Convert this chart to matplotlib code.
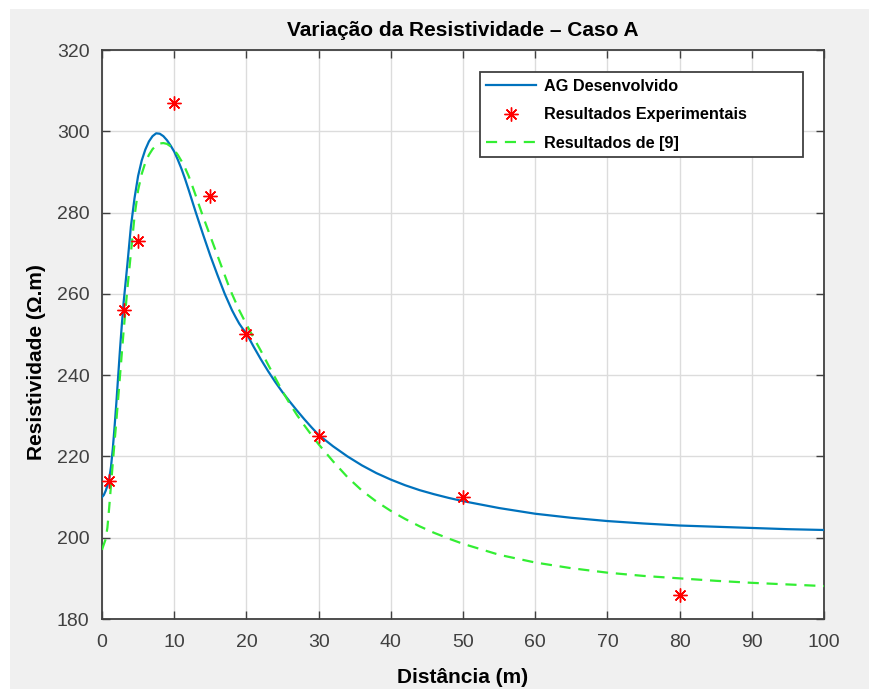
import matplotlib
matplotlib.use("Agg")
import matplotlib.pyplot as plt
from matplotlib.patches import Rectangle

# ---- data ----
ag_x = [0, 0.25, 0.5, 0.75, 1, 1.25, 1.5, 1.75, 2, 2.25, 2.5, 2.75, 3, 3.5, 4, 4.5,
        5, 5.5, 6, 6.5, 7, 7.5, 8, 8.5, 9, 9.5, 10, 10.5, 11, 11.5, 12, 12.5, 13,
        13.5, 14, 14.5, 15, 15.5, 16, 16.5, 17, 17.5, 18, 18.5, 19, 19.5, 20, 21,
        22, 23, 24, 25, 26, 27, 28, 29, 30, 32, 34, 36, 38, 40, 42, 44, 46, 48,
        50, 55, 60, 65, 70, 75, 80, 85, 90, 95, 100]
ag_y = [210, 210.5, 211.5, 212.8, 214.5, 217.5, 222, 227.5, 233.5, 240, 246.5,
        252.5, 258, 267, 276.5, 283.5, 289, 292.8, 295.5, 297.5, 298.8, 299.5,
        299.4, 298.8, 297.8, 296.5, 295, 293, 290.8, 288.3, 285.6, 282.8, 280,
        277.3, 274.6, 272, 269.4, 267, 264.6, 262.3, 260, 258, 256, 254.3, 252.7,
        251.4, 250.3, 247, 243.9, 241, 238.3, 235.8, 233.5, 231.3, 229.2, 227.2,
        225.3, 222.5, 220.0, 217.8, 215.9, 214.3, 212.9, 211.7, 210.7, 209.8,
        209.0, 207.3, 205.9, 204.9, 204.1, 203.5, 203.0, 202.7, 202.4, 202.1,
        201.9]

exp_x = [1, 3, 5, 10, 15, 20, 30, 50, 80]
exp_y = [214, 256, 273, 307, 284, 250, 225, 210, 186]

ref_x = [0, 0.1, 0.3, 0.5, 0.75, 1, 1.25, 1.5, 2, 2.5, 3, 3.5, 4, 4.5, 5, 5.5, 6,
         6.5, 7, 7.5, 8, 8.5, 9, 9.5, 10, 10.5, 11, 11.5, 12, 12.5, 13, 13.5, 14,
         14.5, 15, 15.5, 16, 16.5, 17, 17.5, 18, 19, 20, 21, 22, 23, 24, 25, 26,
         27, 28, 29, 30, 32, 34, 36, 38, 40, 42, 44, 46, 48, 50, 55, 60, 65, 70,
         75, 80, 85, 90, 95, 100]
ref_y = [197, 197.6, 198.6, 199.6, 202.5, 207.5, 213, 218.5, 229, 240, 251, 261,
         270, 279, 285.5, 289.5, 292.3, 294.2, 295.6, 296.5, 297, 297.1, 296.9,
         296.3, 295.4, 294.2, 292.7, 291, 289, 286.6, 284.1, 281.5, 279, 276.6,
         274.2, 271.8, 269.4, 267, 264.6, 262.2, 260, 256, 252.5, 249.2, 246,
         242.6, 239.3, 236, 233, 230.2, 227.7, 225.3, 223, 218.8, 214.9, 211.6,
         208.9, 206.6, 204.6, 202.8, 201.2, 199.8, 198.5, 195.8, 193.9, 192.5,
         191.4, 190.6, 190, 189.4, 188.9, 188.5, 188.1]

x_ticks = list(range(0, 101, 10))
y_ticks = list(range(180, 321, 20))

title = "Variação da Resistividade – Caso A"
xlabel = "Distância (m)"
ylabel = "Resistividade (Ω.m)"
labels = ["AG Desenvolvido", "Resultados Experimentais", "Resultados de [9]"]

# ---- figure ----
plt.rcParams['font.family'] = ['Liberation Sans', 'DejaVu Sans']
W, H = 870, 689
AX_L, AX_R, AX_T, AX_B = 102, 824, 50, 619
AW, AH = AX_R - AX_L, AX_B - AX_T
fig = plt.figure(figsize=(W / 100, H / 100), dpi=100, facecolor='white')
fig.patches.append(Rectangle((10 / W, 0), 1 - 10 / W, 1 - 9 / H,
                             transform=fig.transFigure, facecolor='#f0f0f0',
                             edgecolor='none', zorder=-10))

ax = fig.add_axes([AX_L / W, 1 - AX_B / H, AW / W, AH / H])
ax.set_facecolor('white')

ax.plot(ag_x, ag_y, color='#0072BD', lw=1.6, label=labels[0], zorder=3)
ax.plot(exp_x, exp_y, linestyle='none', marker=(8, 2, 0), markersize=10,
        markeredgewidth=1.0, color='red', markeredgecolor='red',
        label=labels[1], zorder=4)
ax.plot(ref_x, ref_y, color='#33ee33', lw=1.6, linestyle=(0, (5, 3.5)),
        label=labels[2], zorder=3)

ax.set_xlim(0, 100)
ax.set_ylim(180, 320)
ax.set_xticks(x_ticks)
ax.set_yticks(y_ticks)
ax.grid(True, color='#dcdcdc', lw=1.0)
ax.set_axisbelow(True)

for s in ax.spines.values():
    s.set_color('#404040')
    s.set_linewidth(1.3)
ax.tick_params(direction='in', length=6, width=1.0, colors='#404040',
               labelcolor='#404040', labelsize=14, pad=9,
               top=True, right=True)
ax.tick_params(axis='x', pad=11)

ax.set_title(title, fontsize=15, fontweight='bold', pad=10, color='black')
ax.set_xlabel(xlabel, fontsize=15, fontweight='bold', labelpad=12)
ax.set_ylabel(ylabel, fontsize=15, fontweight='bold')
ax.yaxis.set_label_coords((46 - AX_L) / AW, (AX_B - 362) / AH)

# legend frame (MATLAB style, wide right padding)
ax.add_patch(Rectangle(((480 - AX_L) / AW, (AX_B - 157) / AH), 323 / AW, 85 / AH,
                       transform=ax.transAxes, facecolor='white',
                       edgecolor='#404040', lw=1.3, zorder=5, clip_on=False))
leg = ax.legend(loc='upper left',
                bbox_to_anchor=((486 - AX_L) / AW, (AX_B - 79) / AH),
                prop={'weight': 'bold', 'size': 11.7},
                frameon=False, borderaxespad=0, borderpad=0,
                handlelength=3.1, handletextpad=0.5, labelspacing=0.83)
leg.set_zorder(6)

fig.savefig('out.png', dpi=100, facecolor=fig.get_facecolor())
